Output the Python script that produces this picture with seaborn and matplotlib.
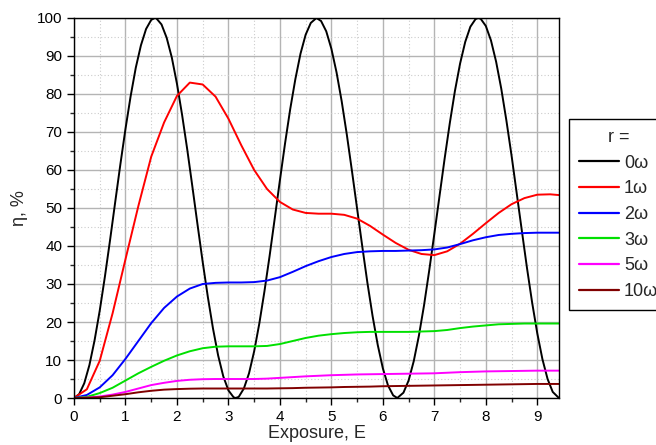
import matplotlib
matplotlib.use("Agg")
import matplotlib.pyplot as plt
from matplotlib.ticker import MultipleLocator
import pandas as pd
import seaborn as sns

# values
E_black = [0, 0.1, 0.2, 0.3, 0.4, 0.5, 0.6, 0.7, 0.8, 0.9, 1.0, 1.1, 1.2, 1.3, 1.4, 1.5, 1.57,
           1.6, 1.7, 1.8, 1.9, 2.0, 2.1, 2.2, 2.3, 2.4, 2.5, 2.6, 2.7, 2.8, 2.9, 3.0, 3.1, 3.14,
           3.2, 3.3, 3.4, 3.5, 3.6, 3.7, 3.8, 3.9, 4.0, 4.1, 4.2, 4.3, 4.4, 4.5, 4.6, 4.71,
           4.8, 4.9, 5.0, 5.1, 5.2, 5.3, 5.4, 5.5, 5.6, 5.7, 5.8, 5.9, 6.0, 6.1, 6.2, 6.28,
           6.4, 6.5, 6.6, 6.7, 6.8, 6.9, 7.0, 7.1, 7.2, 7.3, 7.4, 7.5, 7.6, 7.7, 7.8, 7.85,
           7.9, 8.0, 8.1, 8.2, 8.3, 8.4, 8.5, 8.6, 8.7, 8.8, 8.9, 9.0, 9.1, 9.2, 9.3, 9.42]
eta_0w = [0, 1.0, 3.9, 8.7, 15.2, 23.0, 31.9, 41.5, 51.5, 61.4, 70.8, 79.4, 86.9, 92.8, 97.1, 99.5, 100,
          99.9, 98.3, 94.8, 89.6, 82.7, 74.5, 65.4, 55.6, 45.6, 35.8, 26.6, 18.3, 11.2, 5.7, 2.0, 0.2, 0,
          0.3, 2.5, 6.5, 12.3, 19.6, 28.1, 37.4, 47.3, 57.3, 67.0, 76.0, 83.9, 90.6, 95.6, 98.7, 100,
          99.2, 96.5, 91.9, 85.7, 78.1, 69.3, 59.7, 49.8, 39.9, 30.3, 21.6, 14.0, 7.8, 3.3, 0.7, 0,
          1.4, 4.6, 9.7, 16.4, 24.4, 33.5, 43.2, 53.1, 63.0, 72.3, 80.8, 88.0, 93.7, 97.7, 99.7, 100,
          99.8, 97.9, 94.1, 88.5, 81.4, 73.0, 63.8, 53.9, 44.0, 34.2, 25.1, 17.0, 10.2, 5.0, 1.6, 0]

E = [0, 0.25, 0.5, 0.75, 1.0, 1.25, 1.5, 1.75, 2.0, 2.25, 2.5, 2.75, 3.0, 3.25, 3.5, 3.75,
     4.0, 4.25, 4.5, 4.75, 5.0, 5.25, 5.5, 5.75, 6.0, 6.25, 6.5, 6.75, 7.0, 7.25, 7.5, 7.75,
     8.0, 8.25, 8.5, 8.75, 9.0, 9.25, 9.42]
eta_1w = [0, 2.3, 9.8, 22.3, 36.5, 50.5, 63.5, 72.5, 79.5, 83.0, 82.5, 79.3, 73.5, 66.5, 60.0, 55.0,
          51.6, 49.6, 48.7, 48.5, 48.5, 48.2, 47.2, 45.3, 43.0, 40.8, 39.0, 37.9, 37.6, 38.6, 40.6, 43.2,
          46.0, 48.7, 51.0, 52.6, 53.5, 53.6, 53.4]
eta_2w = [0, 0.8, 2.8, 6.0, 10.3, 15.0, 19.7, 23.7, 26.7, 28.8, 30.0, 30.3, 30.4, 30.4, 30.5, 30.9,
          31.8, 33.2, 34.7, 36.0, 37.1, 37.9, 38.4, 38.6, 38.7, 38.7, 38.8, 38.9, 39.1, 39.6, 40.5, 41.5,
          42.3, 42.9, 43.2, 43.4, 43.5, 43.5, 43.5]
eta_3w = [0, 0.3, 1.3, 2.7, 4.6, 6.5, 8.2, 9.8, 11.2, 12.3, 13.1, 13.5, 13.6, 13.6, 13.6, 13.7,
          14.2, 15.0, 15.8, 16.4, 16.8, 17.1, 17.3, 17.4, 17.4, 17.4, 17.4, 17.5, 17.6, 17.9, 18.4, 18.8,
          19.1, 19.4, 19.5, 19.6, 19.6, 19.6, 19.6]
eta_5w = [0, 0.1, 0.4, 0.9, 1.6, 2.5, 3.4, 4.0, 4.5, 4.8, 4.95, 5.0, 5.0, 5.0, 5.0, 5.1,
          5.3, 5.5, 5.7, 5.85, 6.0, 6.1, 6.2, 6.25, 6.3, 6.35, 6.4, 6.45, 6.5, 6.65, 6.8, 6.9,
          7.0, 7.05, 7.1, 7.15, 7.2, 7.2, 7.2]
eta_10w = [0, 0.05, 0.2, 0.6, 1.0, 1.5, 1.9, 2.2, 2.35, 2.45, 2.5, 2.5, 2.5, 2.5, 2.5, 2.5,
           2.55, 2.6, 2.7, 2.75, 2.8, 2.9, 2.95, 3.0, 3.1, 3.15, 3.2, 3.25, 3.3, 3.35, 3.4, 3.45,
           3.5, 3.55, 3.6, 3.65, 3.7, 3.7, 3.7]

labels = ["0\u03c9", "1\u03c9", "2\u03c9", "3\u03c9", "5\u03c9", "10\u03c9"]
colors = ["#000000", "#ff0000", "#0000ff", "#00e000", "#ff00ff", "#800000"]

frames = [pd.DataFrame({"E": E_black, "eta": eta_0w, "r": labels[0]})]
for lab, vals in zip(labels[1:], [eta_1w, eta_2w, eta_3w, eta_5w, eta_10w]):
    frames.append(pd.DataFrame({"E": E, "eta": vals, "r": lab}))
df = pd.concat(frames, ignore_index=True)

sns.set_style("white")
plt.rcParams["font.family"] = ["Liberation Sans", "DejaVu Sans"]

fig = plt.figure(figsize=(6.56, 4.45), dpi=100)
ax = fig.add_axes([0.1128, 0.1056, 0.7392, 0.854])

sns.lineplot(data=df, x="E", y="eta", hue="r", hue_order=labels,
             palette=dict(zip(labels, colors)), linewidth=1.4, ax=ax, legend=True)

ax.set_xlim(0, 9.42)
ax.set_ylim(0, 100)
ax.xaxis.set_major_locator(MultipleLocator(1))
ax.xaxis.set_minor_locator(MultipleLocator(0.5))
ax.yaxis.set_major_locator(MultipleLocator(10))
ax.yaxis.set_minor_locator(MultipleLocator(5))
ax.grid(which="major", color="#b4b4b4", linewidth=1.0)
ax.grid(which="minor", color="#cccccc", linewidth=0.8, linestyle=(0, (1, 2)))
ax.set_axisbelow(True)
ax.tick_params(which="major", direction="out", length=5, width=1, labelsize=11,
               bottom=True, left=True, colors="black")
ax.tick_params(which="minor", direction="out", length=3, width=1, bottom=True, left=True)
for s in ax.spines.values():
    s.set_color("black")
    s.set_linewidth(1.0)

ax.set_xlabel("Exposure, E", fontsize=13, labelpad=1)
ax.set_ylabel("\u03b7, %", fontsize=13, labelpad=6)

handles, labs = ax.get_legend_handles_labels()
ax.get_legend().remove()
leg = fig.legend(handles, labs, title="r =", loc="upper left",
                 bbox_to_anchor=(569 / 656, 1 - 119 / 445), fontsize=13, title_fontsize=13,
                 frameon=True, fancybox=False, edgecolor="black", framealpha=1,
                 handlelength=2.2, handletextpad=0.3, labelspacing=0.48, borderpad=0.55,
                 borderaxespad=0)
leg.get_frame().set_linewidth(1.0)
for h in leg.legend_handles:
    h.set_linewidth(1.6)

fig.savefig("out.png", dpi=100)
